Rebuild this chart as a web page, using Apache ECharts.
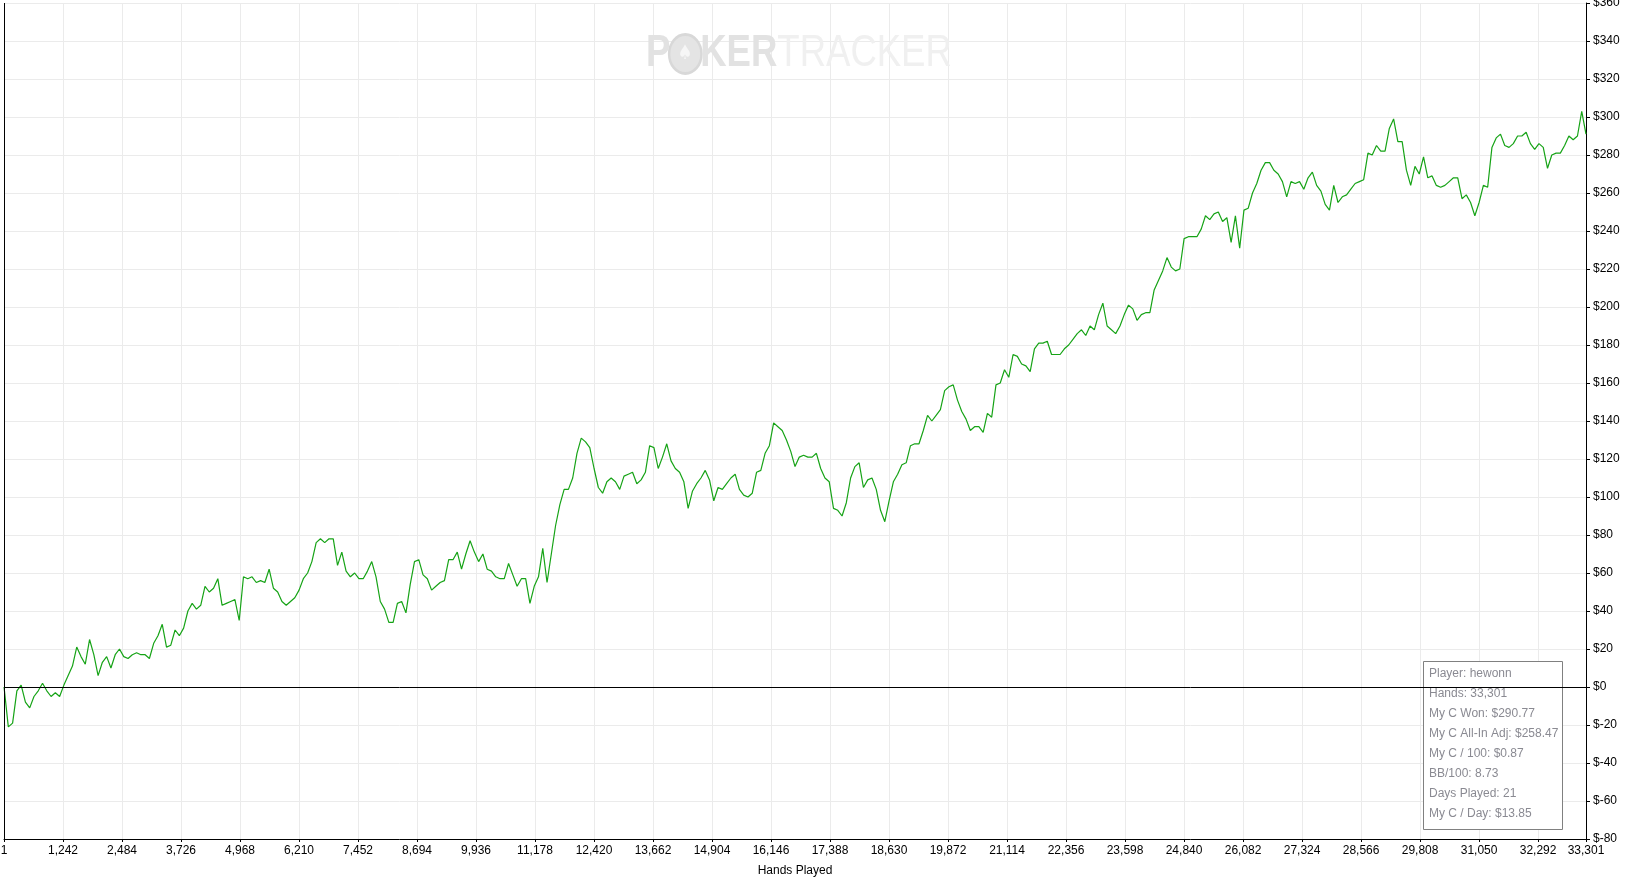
<!DOCTYPE html>
<html>
<head>
<meta charset="utf-8">
<title>Hands Played</title>
<script src="https://cdn.jsdelivr.net/npm/echarts@6/dist/echarts.min.js"></script>
<style>
  html, body { margin: 0; padding: 0; background: #fff; }
  #chart { width: 1628px; height: 880px; }
</style>
</head>
<body>
<div id="chart"></div>
<script>
// cumulative winnings ($), one reading every 90 hands
const handStep = 90
const won = [
  0, -21, -19, -2, 1, -8, -11, -5, -2, 2,
  -2, -5, -3, -5, 1, 6, 11, 21, 16, 12,
  25, 17, 6, 13, 16, 10, 17, 20, 16, 15,
  17, 18, 17, 17, 15, 23, 27, 33, 21, 22,
  30, 27, 31, 40, 44, 41, 43, 53, 50, 52,
  57, 43, 44, 45, 46, 35, 58, 57, 58, 55,
  56, 55, 62, 52, 50, 45, 43, 45, 47, 51,
  57, 60, 66, 76, 78, 76, 78, 78, 64, 71,
  61, 58, 60, 57, 57, 61, 66, 58, 45, 41,
  34, 34, 44, 45, 39, 54, 66, 67, 59, 57,
  51, 53, 55, 56, 67, 67, 71, 62, 70, 77,
  71, 66, 70, 62, 61, 58, 57, 57, 65, 59,
  53, 57, 57, 44, 53, 58, 73, 55, 70, 85,
  96, 104, 104, 110, 123, 131, 129, 126, 115, 105,
  102, 108, 110, 108, 104, 111, 112, 113, 107, 109,
  113, 127, 126, 115, 121, 128, 119, 115, 113, 108,
  94, 103, 107, 110, 114, 109, 98, 105, 104, 107,
  110, 112, 104, 101, 100, 102, 113, 114, 123, 127,
  139, 137, 135, 130, 124, 116, 121, 122, 121, 121,
  123, 115, 110, 108, 94, 93, 90, 97, 110, 116,
  118, 105, 109, 110, 104, 93, 87, 98, 108, 112,
  117, 118, 127, 128, 128, 135, 143, 140, 143, 146,
  156, 158, 159, 151, 145, 141, 135, 137, 137, 134,
  144, 142, 159, 160, 167, 163, 175, 174, 170, 169,
  166, 178, 181, 181, 182, 175, 175, 175, 178, 180,
  183, 186, 188, 185, 190, 188, 196, 202, 190, 188,
  186, 190, 196, 201, 199, 193, 196, 197, 197, 209,
  214, 219, 226, 221, 219, 220, 236, 237, 237, 237,
  241, 248, 246, 249, 250, 245, 247, 234, 248, 231,
  251, 252, 260, 265, 272, 276, 276, 272, 270, 266,
  258, 266, 265, 266, 262, 268, 271, 264, 261, 254,
  251, 264, 255, 258, 259, 262, 265, 266, 267, 281,
  280, 285, 282, 282, 294, 299, 287, 287, 272, 264,
  274, 270, 279, 268, 269, 264, 263, 264, 266, 268,
  268, 257, 259, 255, 248, 255, 264, 263, 284, 289,
  291, 285, 284, 286, 290, 290, 292, 286, 283, 286,
  284, 273, 280, 281, 281, 285, 290, 288, 290, 303,
  291
]
const handTicks = [1, 1242, 2484, 3726, 4968, 6210, 7452, 8694, 9936, 11178,
  12420, 13662, 14904, 16146, 17388, 18630, 19872, 21114, 22356, 23598,
  24840, 26082, 27324, 28566, 29808, 31050, 32292, 33301]
const statLines = [
  'Player: hewonn',
  'Hands: 33,301',
  'My C Won: $290.77',
  'My C All-In Adj: $258.47',
  'My C / 100: $0.87',
  'BB/100: 8.73',
  'Days Played: 21',
  'My C / Day: $13.85'
]

const chart = echarts.init(document.getElementById('chart'))
const font = '"Liberation Sans", Arial, sans-serif'
const plot = { left: 4, right: 42, top: 3, bottom: 41 }

const option = {
  animation: false,
  backgroundColor: '#fff',
  grid: { ...plot, containLabel: false, outerBoundsMode: 'none' },
  xAxis: {
    type: 'value',
    min: 0,
    max: 33301,
    interval: 1242,
    name: 'Hands Played',
    nameLocation: 'middle',
    nameGap: 26,
    nameTextStyle: { color: '#000', fontSize: 12, fontFamily: font },
    axisLine: { show: true, onZero: false, lineStyle: { color: '#000', width: 1 } },
    axisTick: { show: true, length: 3, customValues: handTicks, lineStyle: { color: '#000' } },
    axisLabel: {
      customValues: handTicks,
      color: '#000', fontSize: 12, fontFamily: font, margin: 6,
      formatter: v => v.toLocaleString('en-US')
    },
    splitLine: { show: true, lineStyle: { color: '#ebebeb', width: 1 } }
  },
  yAxis: {
    type: 'value',
    position: 'right',
    min: -80,
    max: 360,
    interval: 20,
    axisLine: { show: true, onZero: false, lineStyle: { color: '#000', width: 1 } },
    axisTick: { show: true, length: 4, lineStyle: { color: '#000' } },
    axisLabel: {
      color: '#000', fontSize: 12, fontFamily: font, margin: 7,
      formatter: v => '$' + v
    },
    splitLine: { show: true, lineStyle: { color: '#ebebeb', width: 1 } }
  },
  series: [
    {
      type: 'line',
      z: 3,
      data: won.map((v, i) => [1 + i * handStep, v]),
      showSymbol: false,
      symbol: 'none',
      lineStyle: { color: '#16a316', width: 1.2 },
      markLine: {
        silent: true,
        symbol: 'none',
        label: { show: false },
        lineStyle: { color: '#000', width: 1, type: 'solid' },
        data: [{ yAxis: 0 }]
      }
    }
  ],
  graphic: [
    // left frame of the plot
    {
      type: 'line',
      silent: true,
      z: 5,
      shape: { x1: plot.left + 0.5, y1: plot.top, x2: plot.left + 0.5, y2: 880 - plot.bottom },
      style: { stroke: '#000', lineWidth: 1 }
    },
    // watermark
    {
      type: 'text',
      x: 646,
      y: 54,
      scaleX: 0.83,
      silent: true,
      z: 1,
      style: {
        text: '{p|P}{o|♠}{p|KER}{t|TRACKER}',
        verticalAlign: 'middle',
        rich: {
          p: { font: 'bold 44px ' + font, fill: '#e2e2e2' },
          o: {
            width: 36, height: 36, borderRadius: 18, align: 'center',
            backgroundColor: '#e4e4e4', borderColor: '#d8d8d8', borderWidth: 3,
            fill: '#f6f6f6', font: '20px "DejaVu Sans"'
          },
          t: { font: '44px ' + font, fill: '#f0f0f0' }
        }
      }
    },
    // stats box, white so the grid lines stop at its edge
    {
      type: 'rect',
      silent: true,
      z: 1,
      shape: { x: 1423.5, y: 661.5, width: 139, height: 168 },
      style: { fill: '#fff', stroke: '#808080', lineWidth: 1 }
    },
    ...statLines.map((s, i) => ({
      type: 'text',
      silent: true,
      z: 4,
      x: 1429,
      y: 674 + i * 19.9,
      style: { text: s, font: '12px ' + font, fill: '#8a8a92', verticalAlign: 'middle' }
    }))
  ]
}

chart.setOption(option)
</script>
</body>
</html>
